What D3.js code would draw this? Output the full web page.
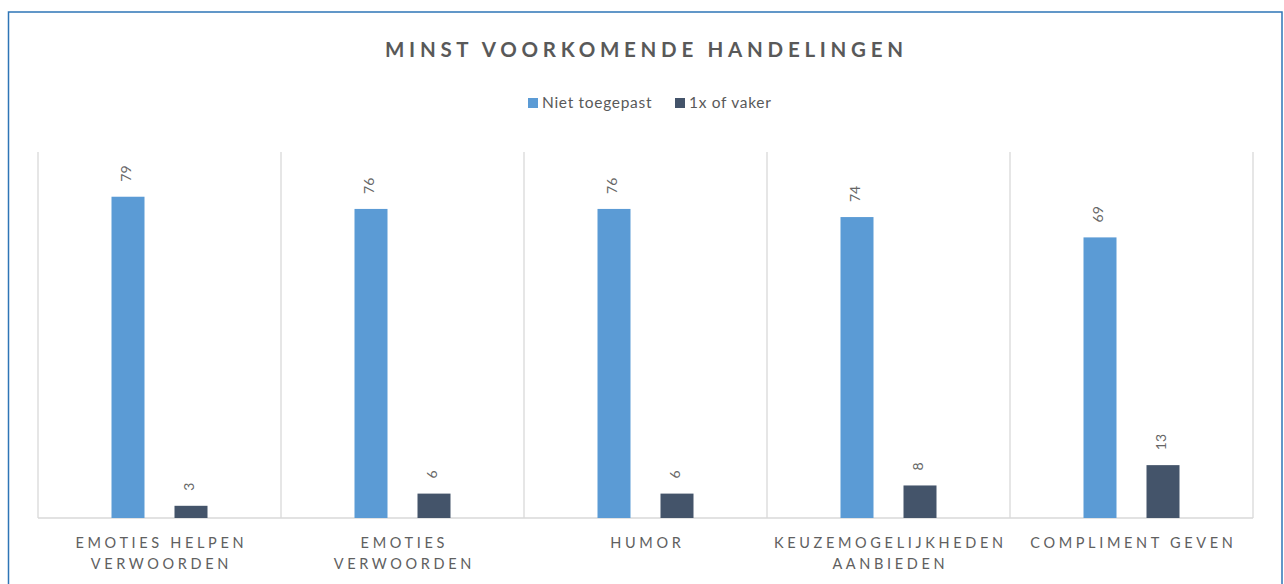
<!DOCTYPE html>
<html>
<head>
<meta charset="utf-8">
<script src="https://cdn.jsdelivr.net/npm/d3@7"></script>
<style>
  html, body { margin: 0; padding: 0; background: #fff; }
  svg { display: block; font-family: Lato, "Open Sans", sans-serif; }
</style>
</head>
<body>
<svg id="chart" width="1284" height="584"></svg>
<script>
const title = "MINST VOORKOMENDE HANDELINGEN";
const categories = [
  ["EMOTIES HELPEN", "VERWOORDEN"],
  ["EMOTIES", "VERWOORDEN"],
  ["HUMOR"],
  ["KEUZEMOGELIJKHEDEN", "AANBIEDEN"],
  ["COMPLIMENT GEVEN"]
];
const seriesNames = ["Niet toegepast", "1x of vaker"];
const nietToegepast = [79, 76, 76, 74, 69];
const vaker = [3, 6, 6, 8, 13];
const seriesColors = ["#5B9BD5", "#44546A"];
const yMax = 90;

const svg = d3.select("#chart");
const textColor = "#595959";

// outer frame
svg.append("rect")
  .attr("x", 8.5).attr("y", 12).attr("width", 1273.5).attr("height", 600)
  .attr("fill", "none").attr("stroke", "#2E75B6").attr("stroke-width", 1.5);

const plot = { left: 38, right: 1253, top: 152, bottom: 518 };

const catKeys = categories.map((c, i) => i);
const x0 = d3.scaleBand().domain(catKeys).range([plot.left, plot.right]).paddingInner(0).paddingOuter(0);
const x1 = d3.scaleBand().domain([0, 1]).range([0, x0.bandwidth()]).paddingInner(30 / 63).paddingOuter(1.1667);
const y = d3.scaleLinear().domain([0, yMax]).range([plot.bottom, plot.top]);

// vertical category separators
const seps = catKeys.map(k => x0(k)).concat([x0(catKeys[catKeys.length - 1]) + x0.bandwidth()]);
svg.append("g").selectAll("line").data(seps).join("line")
  .attr("x1", d => d).attr("x2", d => d)
  .attr("y1", plot.top).attr("y2", plot.bottom)
  .attr("stroke", "#D9D9D9").attr("stroke-width", 1.3);

// baseline
svg.append("line")
  .attr("x1", plot.left).attr("x2", plot.right)
  .attr("y1", y(0)).attr("y2", y(0))
  .attr("stroke", "#D9D9D9").attr("stroke-width", 1.5);

// bars
const rows = [];
catKeys.forEach(k => {
  rows.push({ cat: k, s: 0, v: nietToegepast[k] });
  rows.push({ cat: k, s: 1, v: vaker[k] });
});

svg.append("g").selectAll("rect").data(rows).join("rect")
  .attr("x", d => x0(d.cat) + x1(d.s))
  .attr("width", x1.bandwidth())
  .attr("y", d => y(d.v))
  .attr("height", d => y(0) - y(d.v))
  .attr("fill", d => seriesColors[d.s]);

// value labels (rotated)
svg.append("g").selectAll("text").data(rows).join("text")
  .attr("transform", d => `translate(${x0(d.cat) + x1(d.s) + x1.bandwidth() / 2 - 1.5},${y(d.v) - 15}) rotate(-90)`)
  .attr("dy", "0.35em")
  .attr("text-anchor", "start")
  .attr("font-size", 14)
  .attr("fill", "#666666")
  .text(d => d.v);

// category labels
const labG = svg.append("g");
const probe = labG.append("text").attr("font-size", 14.5).text("KEUZEMOGELIJKHEDEN");
const natW = probe.node().getComputedTextLength();
probe.remove();
const catLS = (229 - natW) / 17;
catKeys.forEach(k => {
  const cx = x0(k) + x0.bandwidth() / 2 + catLS / 2;
  categories[k].forEach((line, li) => {
    labG.append("text")
      .attr("x", cx)
      .attr("y", 548 + li * 21)
      .attr("text-anchor", "middle")
      .attr("font-size", 14.5)
      .attr("letter-spacing", catLS)
      .attr("fill", "#606060")
      .text(line);
  });
});

// title
const t = svg.append("text")
  .attr("y", 57)
  .attr("text-anchor", "middle")
  .attr("font-size", 20.5)
  .attr("font-weight", "bold")
  .attr("fill", textColor)
  .text(title);
const tW = t.node().getComputedTextLength();
const tLS = (518 - tW) / (title.length - 1);
t.attr("letter-spacing", tLS).attr("x", 644 + tLS / 2);

// legend
const legend = svg.append("g");
const legX = [528, 675];
seriesNames.forEach((name, i) => {
  legend.append("rect")
    .attr("x", legX[i]).attr("y", 98)
    .attr("width", 10).attr("height", 10)
    .attr("fill", seriesColors[i]);
  legend.append("text")
    .attr("x", legX[i] + 14).attr("y", 108)
    .attr("font-size", 15.5)
    .attr("letter-spacing", 0.7)
    .attr("fill", textColor)
    .text(name);
});
</script>
</body>
</html>
